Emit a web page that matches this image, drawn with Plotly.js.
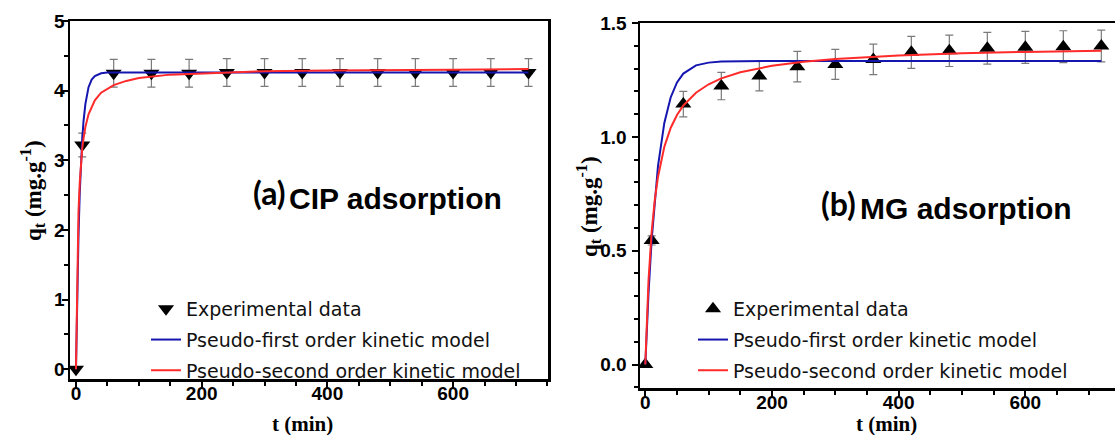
<!DOCTYPE html>
<html>
<head>
<meta charset="utf-8">
<script src="https://cdn.plot.ly/plotly-3.0.1.min.js"></script>
<style>html,body{margin:0;padding:0;background:#fff;}#chart{width:1115px;height:435px;}</style>
</head>
<body>
<div id="chart"></div>
<script>
// ---------- data ----------
const tExp = [0, 10, 60, 120, 180, 240, 300, 360, 420, 480, 540, 600, 660, 720];

// (a) CIP
const cipExp = [0, 3.22, 4.25, 4.25, 4.25, 4.26, 4.26, 4.26, 4.26, 4.26, 4.26, 4.26, 4.26, 4.26];
const cipErr = [0, 0.17, 0.2, 0.2, 0.2, 0.2, 0.2, 0.2, 0.2, 0.2, 0.2, 0.2, 0.2, 0.2];
const tCip = [0, 2, 4, 6, 8, 10, 12, 15, 20, 25, 30, 40, 50, 60, 80, 100, 150, 200, 300, 400, 500, 600, 720];
const cipPFO = [0, 1.10, 1.92, 2.53, 2.98, 3.31, 3.56, 3.81, 4.05, 4.16, 4.21, 4.25, 4.26, 4.26, 4.26, 4.26, 4.26, 4.26, 4.26, 4.26, 4.26, 4.26, 4.26];
const cipPSO = [0, 1.53, 2.26, 2.68, 2.97, 3.17, 3.31, 3.48, 3.66, 3.77, 3.86, 3.97, 4.03, 4.08, 4.14, 4.18, 4.23, 4.25, 4.28, 4.29, 4.30, 4.30, 4.31];

// (b) MG
const mgExp = [0, 0.545, 1.144, 1.223, 1.267, 1.308, 1.318, 1.340, 1.371, 1.378, 1.389, 1.393, 1.396, 1.399];
const mgErr = [0, 0.02, 0.056, 0.06, 0.065, 0.067, 0.066, 0.067, 0.07, 0.069, 0.07, 0.07, 0.07, 0.07];
const tMg = [0, 2, 5, 10, 15, 20, 30, 40, 50, 60, 80, 100, 120, 150, 200, 250, 300, 400, 500, 600, 720];
const mgPFO = [0, 0.134, 0.311, 0.548, 0.731, 0.871, 1.061, 1.173, 1.239, 1.278, 1.314, 1.326, 1.331, 1.333, 1.333, 1.333, 1.333, 1.333, 1.333, 1.333, 1.333];
const mgPSO = [0, 0.175, 0.368, 0.583, 0.724, 0.824, 0.956, 1.039, 1.096, 1.138, 1.194, 1.231, 1.257, 1.284, 1.312, 1.330, 1.342, 1.357, 1.367, 1.373, 1.378];

const xTicks = [0, 200, 400, 600];
const names = ['Experimental data', 'Pseudo-first order kinetic model', 'Pseudo-second order kinetic model'];
const panelLabels = ['(a)', 'CIP adsorption', '(b)', 'MG adsorption'];
const xTitle = 't (min)';
const yTitle = '<b>q<sub>t</sub> (mg.g<sup>-1</sup>)</b>';

// ---------- helpers ----------
const W = 1115, H = 435;
const px = v => v / W;
const py = v => 1 - v / H;
const BLUE = '#1515b0', RED = '#ff2a2a', ERR = '#7a7a7a';

const errStyle = arr => ({type: 'data', array: arr, visible: true, color: ERR, thickness: 1.2, width: 4});

const traces = [
  {x: tExp, y: cipExp, type: 'scatter', mode: 'markers', name: names[0], xaxis: 'x', yaxis: 'y',
   marker: {symbol: 'triangle-down', size: 14, color: '#000'}, error_y: errStyle(cipErr),
   legend: 'legend', legendgroup: 'a0'},
  {x: tCip, y: cipPFO, type: 'scatter', mode: 'lines', name: names[1], xaxis: 'x', yaxis: 'y',
   line: {color: BLUE, width: 2}, legend: 'legend', legendgroup: 'a1'},
  {x: tCip, y: cipPSO, type: 'scatter', mode: 'lines', name: names[2], xaxis: 'x', yaxis: 'y',
   line: {color: RED, width: 2}, legend: 'legend', legendgroup: 'a2'},
  {x: tExp, y: mgExp, type: 'scatter', mode: 'markers', name: names[0], xaxis: 'x2', yaxis: 'y2',
   marker: {symbol: 'triangle-up', size: 14, color: '#000'}, error_y: errStyle(mgErr),
   legend: 'legend2', legendgroup: 'b0'},
  {x: tMg, y: mgPFO, type: 'scatter', mode: 'lines', name: names[1], xaxis: 'x2', yaxis: 'y2',
   line: {color: BLUE, width: 2}, legend: 'legend2', legendgroup: 'b1'},
  {x: tMg, y: mgPSO, type: 'scatter', mode: 'lines', name: names[2], xaxis: 'x2', yaxis: 'y2',
   line: {color: RED, width: 2}, legend: 'legend2', legendgroup: 'b2'}
];

const tickFont = {family: 'Liberation Sans, Arial, sans-serif', size: 19, color: '#000', weight: 'bold'};
const axBase = {showgrid: false, zeroline: false, showline: true, linecolor: '#000', linewidth: 2.5,
  ticks: 'outside', ticklen: 6, tickwidth: 2, tickcolor: '#000', tickfont: tickFont, fixedrange: true};
const xMinor = {dtick: 50, tick0: 0, ticks: 'outside', ticklen: 4, tickwidth: 2, tickcolor: '#000'};

const legendBase = {font: {family: 'DejaVu Sans, sans-serif', size: 19, color: '#111'},
  bgcolor: 'rgba(0,0,0,0)', borderwidth: 0, xanchor: 'left', yanchor: 'top',
  tracegroupgap: 3, traceorder: 'grouped'};

const titleFont = {family: 'Liberation Serif, Times New Roman, serif', size: 21, color: '#000'};
const yTitleFont = {family: 'Liberation Serif, Times New Roman, serif', size: 23, color: '#000'};
const labFontA = {family: 'Lato, Open Sans, sans-serif', size: 32, color: '#000', weight: 'bold'};
const labFontB = {family: 'Liberation Sans, Arial, sans-serif', size: 30, color: '#000', weight: 'bold'};

const layout = {
  width: W, height: H,
  margin: {l: 0, r: 0, t: 0, b: 0},
  paper_bgcolor: '#fff', plot_bgcolor: '#fff',
  showlegend: true,
  xaxis: Object.assign({}, axBase, {domain: [px(70), px(548)], range: [-9.5, 751], anchor: 'y',
    tickvals: xTicks, ticktext: xTicks.map(String), mirror: true, ticklabelstandoff: -10, minor: xMinor}),
  yaxis: Object.assign({}, axBase, {domain: [py(379), py(21)], range: [-0.14, 5], anchor: 'x',
    dtick: 1, tick0: 0, mirror: true, ticklabelstandoff: -7,
    minor: {dtick: 0.5, tick0: 0, ticks: 'outside', ticklen: 4, tickwidth: 2, tickcolor: '#000'}}),
  xaxis2: Object.assign({}, axBase, {domain: [px(640), 1], range: [-8.4, 741.6], anchor: 'y2',
    tickvals: xTicks, ticktext: xTicks.map(String), mirror: true, ticklabelstandoff: -10, minor: xMinor}),
  yaxis2: Object.assign({}, axBase, {domain: [py(388), py(23)], range: [-0.103, 1.5], anchor: 'x2',
    dtick: 0.5, tick0: 0, tickformat: '.1f', mirror: false, ticklabelstandoff: 1,
    minor: {dtick: 0.1, tick0: 0, ticks: 'outside', ticklen: 4, tickwidth: 2, tickcolor: '#000'}}),
  legend: Object.assign({}, legendBase, {x: px(146), y: py(290)}),
  legend2: Object.assign({}, legendBase, {x: px(693), y: py(290)}),
  annotations: [
    {text: '<b>' + xTitle + '</b>', x: px(302), y: py(438), xref: 'paper', yref: 'paper', showarrow: false,
     xanchor: 'center', yanchor: 'bottom', font: titleFont},
    {text: '<b>' + xTitle + '</b>', x: px(886), y: py(438), xref: 'paper', yref: 'paper', showarrow: false,
     xanchor: 'center', yanchor: 'bottom', font: titleFont},
    {text: yTitle, x: px(32), y: py(191), xref: 'paper', yref: 'paper', showarrow: false, textangle: -90,
     xanchor: 'center', yanchor: 'middle', font: yTitleFont},
    {text: yTitle, x: px(588), y: py(207), xref: 'paper', yref: 'paper', showarrow: false, textangle: -90,
     xanchor: 'center', yanchor: 'middle', font: yTitleFont},
    {text: panelLabels[0], x: px(251), y: py(192), xref: 'paper', yref: 'paper', showarrow: false,
     xanchor: 'left', yanchor: 'middle', font: labFontA},
    {text: panelLabels[1], x: px(287), y: py(198), xref: 'paper', yref: 'paper', showarrow: false,
     xanchor: 'left', yanchor: 'middle', font: labFontB},
    {text: panelLabels[2], x: px(819), y: py(203), xref: 'paper', yref: 'paper', showarrow: false,
     xanchor: 'left', yanchor: 'middle', font: labFontA},
    {text: panelLabels[3], x: px(858), y: py(209), xref: 'paper', yref: 'paper', showarrow: false,
     xanchor: 'left', yanchor: 'middle', font: labFontB}
  ]
};

Plotly.newPlot('chart', traces, layout, {staticPlot: true, displayModeBar: false});
</script>
</body>
</html>
